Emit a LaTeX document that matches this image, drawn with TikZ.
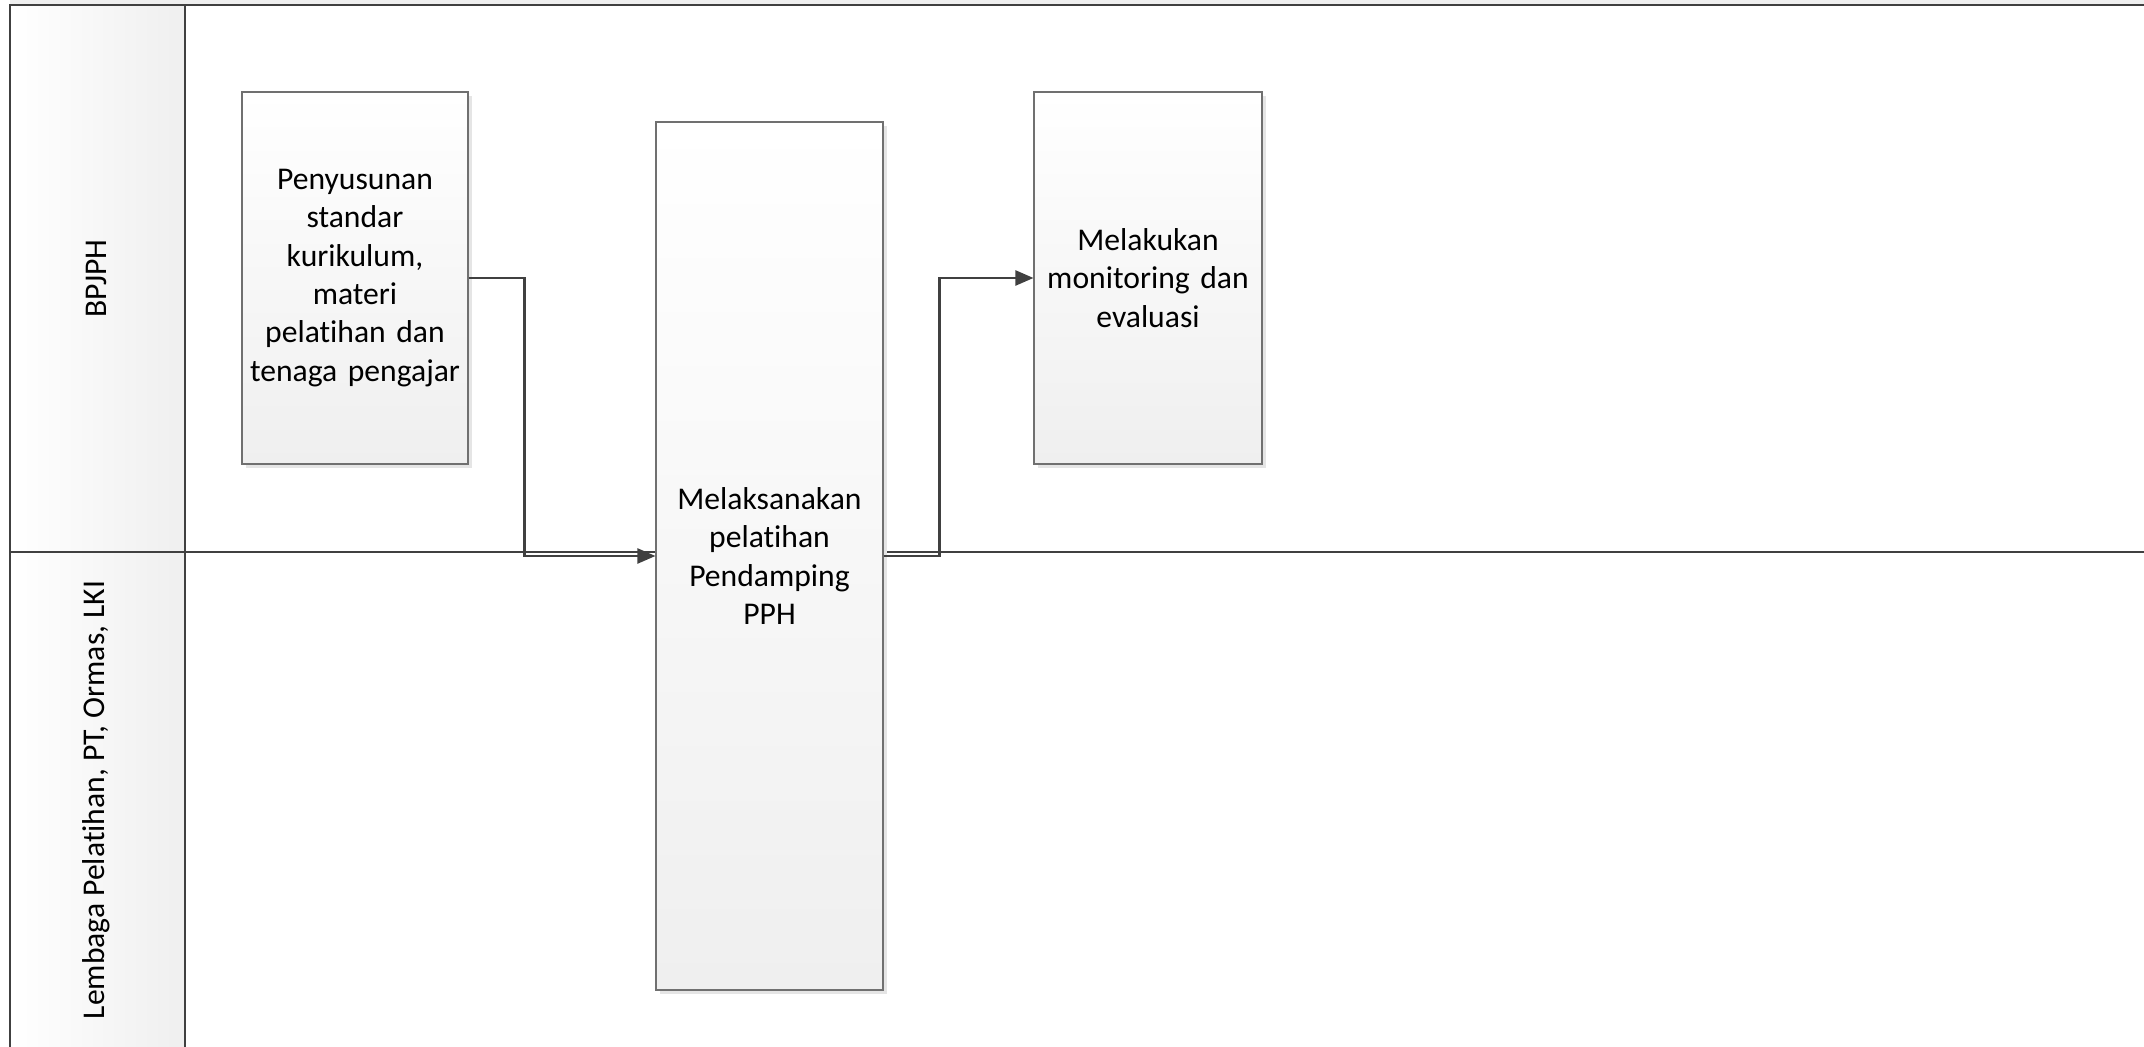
\documentclass[tikz,border=0pt]{standalone}
\usepackage{fontspec}
\setmainfont{Carlito}[Ligatures=NoCommon]
\usepackage{tikz}
\usepackage{xcolor}
\usetikzlibrary{arrows.meta,positioning,shadows}
\definecolor{laneline}{HTML}{404040}
\definecolor{boxline}{HTML}{707070}
\definecolor{softgray}{HTML}{EFEFEF}

\begin{document}
\begin{tikzpicture}[
    font=\fontsize{18}{21.8}\selectfont,
    task/.style={draw=boxline, line width=0.6pt, top color=white, bottom color=softgray,
      drop shadow={shadow xshift=0.08cm, shadow yshift=-0.08cm, fill=black!10, opacity=1},
      minimum width=4.52cm, text width=4.3cm, align=center, inner sep=0pt},
    lanelabel/.style={rotate=90, anchor=center},
    lane/.style={draw=laneline, line width=1.1pt},
    flow/.style={-{Triangle[length=0.36cm, width=0.3cm]}, draw=laneline, line width=1.3pt}
  ]
    \useasboundingbox (0,0) rectangle (42.88,-20.94);

    % swimlanes
    \fill[softgray] (0.2,0) rectangle (42.88,-0.1);
    \shade[left color=white, right color=softgray] (0.2,-0.1) rectangle (3.7,-20.94);
    \draw[lane] (42.88,-0.1) -- (0.2,-0.1) -- (0.2,-20.94);
    \draw[lane] (3.7,-0.1) -- (3.7,-20.94);
    \draw[lane] (0.2,-11.04) -- (42.88,-11.04);
    \node[lanelabel] (laneA) at (1.93,-5.57) {BPJPH};
    \node[lanelabel] (laneB) at (1.93,-16.0) {Lembaga Pelatihan, PT, Ormas, LKI};

    % steps
    \node[task, minimum height=7.44cm] (prep) at (7.1,-5.56)
      {Penyusunan\\standar\\kurikulum,\\materi\\pelatihan dan\\tenaga pengajar};
    \node[task, minimum height=17.36cm, minimum width=4.54cm] (train) at (15.39,-11.12)
      {Melaksanakan\\pelatihan\\Pendamping\\PPH};
    \node[task, minimum height=7.44cm, minimum width=4.56cm] (monev) at (22.96,-5.56)
      {Melakukan\\monitoring dan\\evaluasi};

    \draw[flow] (prep.east) -- ++(1.12,0) |- (train.west);
    \draw[flow] (train.east) -- ++(1.12,0) |- (monev.west);
  \end{tikzpicture}
\end{document}
